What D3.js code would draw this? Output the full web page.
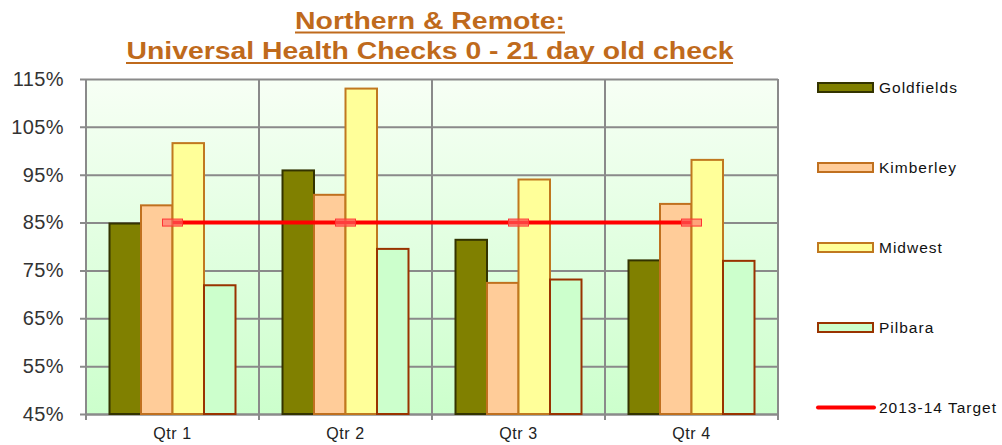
<!DOCTYPE html>
<html>
<head>
<meta charset="utf-8">
<script src="https://cdn.jsdelivr.net/npm/d3@7"></script>
<style>
  body { margin: 0; background: #fff; }
  svg { display: block; font-family: Arial, "Liberation Sans", sans-serif; }
</style>
</head>
<body>
<svg width="1002" height="445"></svg>
<script>
const quarters = ['Qtr 1', 'Qtr 2', 'Qtr 3', 'Qtr 4'];
const regions = ['Goldfields', 'Kimberley', 'Midwest', 'Pilbara'];
const goldfields = [84.8, 95.9, 81.4, 77.1];
const kimberley = [88.6, 90.8, 72.4, 88.9];
const midwest = [101.6, 113.0, 94.0, 98.1];
const pilbara = [71.9, 79.5, 73.1, 77.0];
const target = [85, 85, 85, 85];
const yTicks = [45, 55, 65, 75, 85, 95, 105, 115];
const targetLabel = '2013-14  Target';

const svg = d3.select('svg');
const margin = {top: 79, left: 86, right: 224, bottom: 31};
const width = +svg.attr('width');
const height = +svg.attr('height');
const innerWidth = width - margin.left - margin.right;
const innerHeight = height - margin.top - margin.bottom;

const series = [goldfields, kimberley, midwest, pilbara];
const fills = ['#808000', '#ffcc99', '#ffff99', '#ccffcc'];
const strokes = ['#333300', '#c0701f', '#c0781f', '#993300'];

const xScale = d3.scaleBand().domain(quarters).range([0, innerWidth]).padding(0);
const xInner = d3.scaleBand().domain(regions)
  .range([23.5, xScale.bandwidth() - 23.5]).padding(0);
const yScale = d3.scaleLinear().domain([45, 115]).range([innerHeight, 0]);

// background gradient
const defs = svg.append('defs');
const grad = defs.append('linearGradient').attr('id', 'bg')
  .attr('x1', 0).attr('y1', 0).attr('x2', 0).attr('y2', 1);
grad.append('stop').attr('offset', '0%').attr('stop-color', '#f7fff5');
grad.append('stop').attr('offset', '100%').attr('stop-color', '#ccffcc');

const g = svg.append('g').attr('transform', `translate(${margin.left},${margin.top})`);

g.append('rect').attr('width', innerWidth).attr('height', innerHeight)
  .attr('fill', 'url(#bg)');

// horizontal grid + left ticks
const yAxis = d3.axisLeft(yScale).tickValues(yTicks)
  .tickFormat(d => d + '%').tickSize(-innerWidth);
const yAxisG = g.append('g').call(yAxis);
yAxisG.select('.domain').remove();
yAxisG.selectAll('.tick line').attr('stroke', '#8a8a8a').attr('stroke-width', 2)
  .attr('x1', -6);
yAxisG.selectAll('.tick text').attr('font-size', 20).attr('fill', '#333')
  .attr('letter-spacing', 0.4).attr('x', -22);

// vertical grid at category boundaries
const bounds = quarters.map(q => xScale(q)).concat([innerWidth]);
g.append('g').selectAll('line').data(bounds).enter().append('line')
  .attr('x1', d => d).attr('x2', d => d)
  .attr('y1', 0).attr('y2', innerHeight + 6)
  .attr('stroke', '#8a8a8a').attr('stroke-width', 2);

// x axis labels
const xAxisG = g.append('g').attr('transform', `translate(0,${innerHeight})`)
  .call(d3.axisBottom(xScale).tickSize(0));
xAxisG.select('.domain').attr('stroke', '#8a8a8a').attr('stroke-width', 2);
xAxisG.selectAll('.tick text').attr('font-size', 16).attr('fill', '#222')
  .attr('letter-spacing', 0.6).attr('dy', null).attr('y', 25);

// bars
quarters.forEach((q, qi) => {
  const grp = g.append('g').attr('transform', `translate(${xScale(q)},0)`);
  regions.forEach((r, ri) => {
    const v = series[ri][qi];
    grp.append('rect')
      .attr('x', xInner(r))
      .attr('y', yScale(v))
      .attr('width', xInner.bandwidth())
      .attr('height', innerHeight - yScale(v))
      .attr('fill', fills[ri])
      .attr('stroke', strokes[ri])
      .attr('stroke-width', 2);
  });
});

// target line
const cx = q => xScale(q) + xScale.bandwidth() / 2;
const line = d3.line().x((d, i) => cx(quarters[i])).y(d => yScale(d));
g.append('path').datum(target).attr('d', line)
  .attr('fill', 'none').attr('stroke', '#ff0000').attr('stroke-width', 4);
g.selectAll('.tmark').data(target).enter().append('rect')
  .attr('class', 'tmark')
  .attr('x', (d, i) => cx(quarters[i]) - 10)
  .attr('y', d => yScale(d) - 3.5)
  .attr('width', 20).attr('height', 7)
  .attr('fill', '#ff6666').attr('fill-opacity', 0.6)
  .attr('stroke', '#ff3333').attr('stroke-width', 1);

// title
const titleColor = '#bf6a1c';
const title = svg.append('g').attr('font-family', '"Liberation Sans Narrow", "Arial Narrow", Arial, sans-serif')
  .attr('font-weight', 'bold').attr('fill', titleColor).attr('text-anchor', 'middle');
title.append('text').attr('x', 430).attr('y', 29).attr('font-size', 23)
  .attr('textLength', 270).attr('lengthAdjust', 'spacingAndGlyphs')
  .text('Northern & Remote:');
title.append('text').attr('x', 430).attr('y', 59).attr('font-size', 23)
  .attr('textLength', 607).attr('lengthAdjust', 'spacingAndGlyphs')
  .text('Universal Health Checks 0 - 21 day old check');
title.append('line').attr('x1', 295).attr('x2', 565).attr('y1', 32.5).attr('y2', 32.5)
  .attr('stroke', titleColor).attr('stroke-width', 2);
title.append('line').attr('x1', 126).attr('x2', 733).attr('y1', 63).attr('y2', 63)
  .attr('stroke', titleColor).attr('stroke-width', 2);

// legend
const legend = svg.append('g').attr('transform', 'translate(818,0)');
const legendItems = regions.concat([targetLabel]);
const ly = d3.scalePoint().domain(legendItems).range([87.5, 407.5]);
legendItems.forEach((name, i) => {
  const y = ly(name);
  if (i < regions.length) {
    legend.append('rect').attr('x', 0).attr('y', y - 4.5).attr('width', 55).attr('height', 9)
      .attr('fill', fills[i]).attr('stroke', strokes[i]).attr('stroke-width', 2);
  } else {
    legend.append('line').attr('x1', 0).attr('x2', 56).attr('y1', y).attr('y2', y)
      .attr('stroke', '#ff0000').attr('stroke-width', 4).attr('stroke-linecap', 'round');
  }
  legend.append('text').attr('x', 61).attr('y', y + 5.5).attr('font-size', 15.5)
    .attr('letter-spacing', 1).attr('fill', '#111').text(name);
});
</script>
</body>
</html>
